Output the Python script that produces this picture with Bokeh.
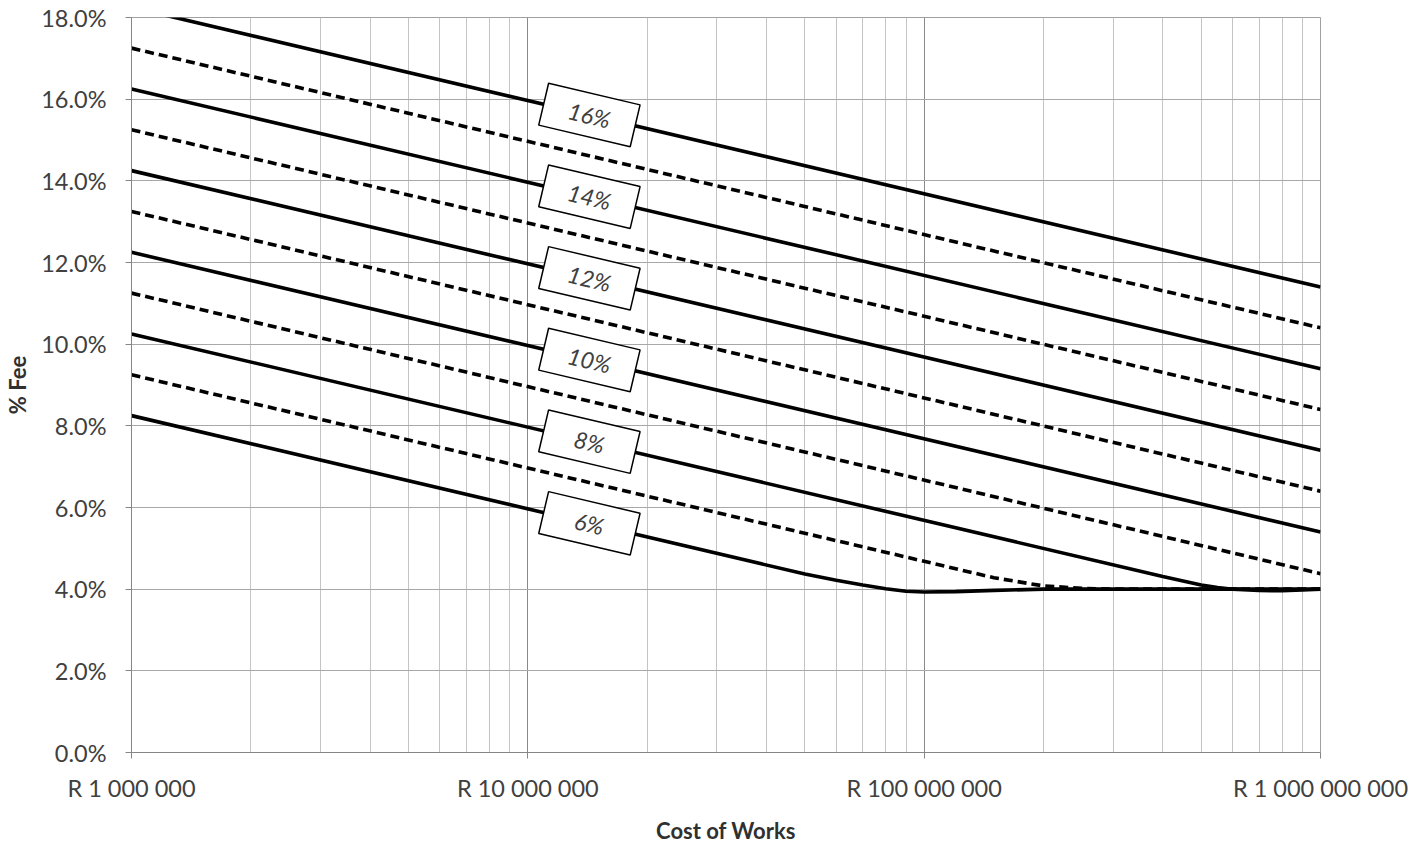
import numpy as np
from bokeh.plotting import figure
from bokeh.models import FixedTicker, PrintfTickFormatter, Range1d
from bokeh.embed import file_html
from bokeh.resources import INLINE
from bokeh.core.properties import value

# ---------------- data ----------------
x_major_ticks = [1e6, 1e7, 1e8, 1e9]
x_tick_labels = ["R 1 000 000", "R 10 000 000", "R 100 000 000", "R 1 000 000 000"]
y_ticks = [0, 2, 4, 6, 8, 10, 12, 14, 16, 18]

cost_ends = [1e6, 1e9]
fee_a = [18.25, 11.40]   # solid (16%)
fee_b = [17.25, 10.40]   # dashed
fee_c = [16.25, 9.40]    # solid (14%)
fee_d = [15.25, 8.40]    # dashed
fee_e = [14.25, 7.40]    # solid (12%)
fee_f = [13.25, 6.40]    # dashed
fee_g = [12.25, 5.40]    # solid (10%)
fee_h = [11.25, 4.38]    # dashed

cost_i = [1e6, 4e8, 4.5e8, 5e8, 5.5e8, 6e8, 7e8, 8e8, 9e8, 1e9]
fee_i = [10.25, 4.31, 4.20, 4.10, 4.04, 4.00, 3.97, 3.96, 3.98, 4.00]   # solid (8%)

cost_j = [1e6, 1.5e8, 2e8, 2.5e8, 3e8, 1e9]
fee_j = [9.25, 4.28, 4.08, 4.02, 4.00, 4.00]   # dashed

cost_k = [1e6, 5e7, 6e7, 7e7, 8e7, 9e7, 1e8, 1.2e8, 1.5e8, 2e8, 1e9]
fee_k = [8.25, 4.37, 4.22, 4.10, 4.01, 3.95, 3.93, 3.94, 3.97, 4.00, 4.00]  # solid (6%)

label_text = ["16%", "14%", "12%", "10%", "8%", "6%"]
label_cost = 1.43e7

series = [
    (cost_ends, fee_a, "solid"),
    (cost_ends, fee_b, "dashed"),
    (cost_ends, fee_c, "solid"),
    (cost_ends, fee_d, "dashed"),
    (cost_ends, fee_e, "solid"),
    (cost_ends, fee_f, "dashed"),
    (cost_ends, fee_g, "solid"),
    (cost_ends, fee_h, "dashed"),
    (cost_i, fee_i, "solid"),
    (cost_j, fee_j, "dashed"),
    (cost_k, fee_k, "solid"),
]
labelled = [(cost_ends, fee_a), (cost_ends, fee_c), (cost_ends, fee_e),
            (cost_ends, fee_g), (cost_i, fee_i), (cost_k, fee_k)]

# ---------------- figure ----------------
FONT = "Lato"
p = figure(x_axis_type="log",
           x_range=Range1d(1e6, 1e9), y_range=Range1d(0, 18),
           frame_width=1189, frame_height=735,
           min_border_left=131, min_border_top=17, min_border_right=88, min_border_bottom=90,
           output_backend="svg", toolbar_location=None)
p.background_fill_color = "white"
p.border_fill_color = "white"
p.outline_line_color = "#a0a0a0"

minor = [k * 10 ** d for d in (6, 7, 8) for k in range(2, 10)]
xt = FixedTicker(ticks=x_major_ticks, minor_ticks=minor)
p.xaxis.ticker = xt
p.xgrid.ticker = xt
p.xaxis.major_label_overrides = {t: l for t, l in zip(x_major_ticks, x_tick_labels)}
p.xgrid.grid_line_color = "#8a8a8a"
p.xgrid.minor_grid_line_color = "#c4c4c4"
p.xaxis.minor_tick_line_color = None

yt = FixedTicker(ticks=y_ticks)
p.yaxis.ticker = yt
p.ygrid.ticker = yt
p.yaxis.formatter = PrintfTickFormatter(format="%.1f%%")
p.ygrid.grid_line_color = "#a8a8a8"
p.yaxis.minor_tick_line_color = None

for ax in (p.xaxis, p.yaxis):
    ax.axis_line_color = "#868686"
    ax.major_tick_line_color = "#868686"
    ax.major_tick_in = 0
    ax.major_tick_out = 6
    ax.major_label_text_font = FONT
    ax.major_label_text_font_size = "23.5px"
    ax.major_label_text_color = "#404040"
    ax.axis_label_text_font = FONT
    ax.axis_label_text_font_size = "22px"
    ax.axis_label_text_font_style = "bold"
    ax.axis_label_text_color = "#303030"

p.xaxis.axis_label = "Cost of Works"
p.yaxis.axis_label = "% Fee"
p.xaxis.major_label_standoff = 15
p.yaxis.major_label_standoff = 19
p.xaxis.axis_label_standoff = 12
p.yaxis.axis_label_standoff = 7

for cost, fee, dash in series:
    p.line(cost, fee, line_color="black", line_width=3.6,
           line_dash="solid" if dash == "solid" else "9 5")

# labels placed on the labelled lines
lx = [label_cost] * len(labelled)
ly = [float(np.interp(np.log10(label_cost), np.log10(c), f)) for c, f in labelled]
ANG = -0.232
p.rect(x=lx, y=ly, width=94, height=43, width_units="screen", height_units="screen",
       angle=ANG, fill_color="white", line_color="black", line_width=1.5)
p.text(x=lx, y=ly, text=label_text, angle=ANG, text_align="center", text_baseline="middle",
       text_font=value(FONT), text_font_style="italic", text_font_size="23px",
       text_color="#404040")

open("out.html", "w").write(file_html(p, INLINE))
